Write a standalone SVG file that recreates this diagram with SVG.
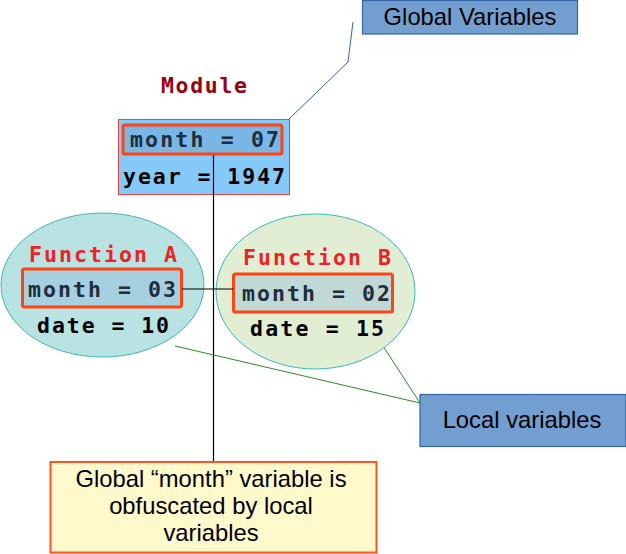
<svg xmlns="http://www.w3.org/2000/svg" width="626" height="554" viewBox="0 0 626 554">
<style>
.mono{font-family:"DejaVu Sans Mono","Liberation Mono",monospace;font-weight:bold;font-size:21.5px}
.var{fill:#1f2d3d}
.blk{fill:#000}
.fn{fill:#ee2222}
.sans{font-family:"Liberation Sans",Arial,sans-serif;font-size:23.8px;fill:#000}
.hl{stroke:#ff4411;stroke-width:3}
.lbl{fill:#729fcf;stroke:#3465a4;stroke-width:1.2}
.ell{stroke:#3cb8b8;stroke-width:1}
</style>
<g id="connectors" fill="none">
<polyline points="353,22 348,62 289,119" stroke="#3465a4" stroke-width="1"/>
<line x1="213.5" y1="155" x2="213.5" y2="462" stroke="#000" stroke-width="1.2"/>
<line x1="175" y1="346" x2="420" y2="403" stroke="#2a8a2a" stroke-width="1"/>
<line x1="383" y1="346" x2="420" y2="403" stroke="#2a8a2a" stroke-width="1"/>
</g>
<g id="global-label">
<rect class="lbl" x="362.5" y="0.5" width="215" height="33.5"/>
<text class="sans" x="470" y="25" text-anchor="middle">Global Variables</text>
</g>
<g id="module">
<text class="mono" x="161" y="93" fill="#990011" textLength="86" lengthAdjust="spacing">Module</text>
<rect x="118.5" y="119.5" width="171" height="75" fill="#85c9f9" stroke="#ee4444" stroke-width="1"/>
<rect class="hl" x="123" y="125" width="159" height="29" rx="2" fill="#78b6e6"/>
<text class="mono var" x="130" y="147" textLength="149" lengthAdjust="spacing">month = 07</text>
<line x1="213.5" y1="155" x2="213.5" y2="195" stroke="#000" stroke-width="1.2"/>
<text class="mono blk" x="123" y="184" textLength="162" lengthAdjust="spacing">year = 1947</text>
</g>
<g id="function-a">
<ellipse class="ell" cx="102.5" cy="285" rx="101.5" ry="72" fill="#b9e3e3"/>
<text class="mono fn" x="29" y="262" textLength="148" lengthAdjust="spacing">Function A</text>
<rect class="hl" x="22.5" y="269" width="159" height="38" rx="2" fill="#a6cfe0"/>
<text class="mono var" x="28" y="297" textLength="148" lengthAdjust="spacing">month = 03</text>
<text class="mono blk" x="37" y="333" textLength="132" lengthAdjust="spacing">date = 10</text>
</g>
<g id="function-b">
<ellipse class="ell" cx="315.5" cy="291.5" rx="99.5" ry="77.5" fill="#e1eed4"/>
<text class="mono fn" x="243" y="265" textLength="148" lengthAdjust="spacing">Function B</text>
<rect class="hl" x="233.5" y="274" width="159" height="38" rx="2" fill="#c0d9d6"/>
<text class="mono var" x="242" y="301" textLength="148" lengthAdjust="spacing">month = 02</text>
<text class="mono blk" x="250" y="336" textLength="134" lengthAdjust="spacing">date = 15</text>
</g>
<g id="link-ab">
<line x1="182" y1="289" x2="233" y2="289" stroke="#000" stroke-width="1.2"/>
</g>
<g id="local-label">
<rect class="lbl" x="420" y="394.5" width="206" height="52"/>
<text class="sans" x="522" y="428" text-anchor="middle">Local variables</text>
</g>
<g id="note">
<rect x="50.5" y="462" width="326" height="90.5" fill="#fff9cc" stroke="#ff5522" stroke-width="2"/>
<text class="sans" text-anchor="middle"><tspan x="211" y="487">Global “month” variable is</tspan><tspan x="211" y="514">obfuscated by local</tspan><tspan x="211" y="541">variables</tspan></text>
</g>
</svg>
